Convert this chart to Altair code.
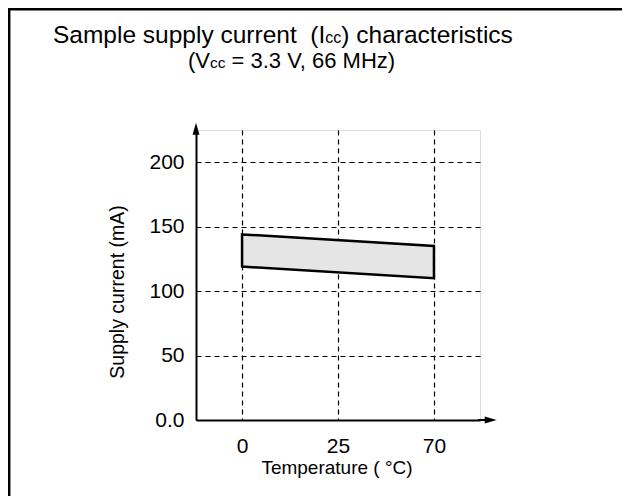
import altair as alt
import pandas as pd

# ---- data ----
temps = ["0", "25", "70"]
band_temp = ["0", "70"]
band_max = [144, 135]
band_min = [119, 110]
y_ticks = [0, 50, 100, 150, 200]

NB = "\u00a0"
title1 = ["Sample supply current" + NB + " (I", "cc", ") characteristics"]
title2 = ["(V", "cc", "= 3.3 V, 66 MHz)"]
x_title = "Temperature ( °C)"
y_title = "Supply current (mA)"

FONT = "Liberation Sans"
W, H = 284, 290

band = pd.DataFrame({"temp": band_temp, "max": band_max, "min": band_min})
one = pd.DataFrame({"d": [0]})

xenc = alt.X(
    "temp:O",
    scale=alt.Scale(type="point", domain=temps, padding=0.48),
    axis=alt.Axis(
        title=None, labelAngle=0, grid=True, gridDash=[5, 4], gridColor="black",
        gridWidth=1.2, gridOpacity=1, ticks=False, domainColor="black", domainWidth=2,
        labelFontSize=21, labelFont=FONT, labelColor="black", labelPadding=15,
    ),
)
yenc = alt.Y(
    "max:Q",
    scale=alt.Scale(domain=[0, 225], nice=False),
    axis=alt.Axis(
        title=None, values=y_ticks, grid=True, gridDash=[5, 4], gridColor="black",
        gridWidth=1.2, gridOpacity=1, ticks=False, domainColor="black", domainWidth=2,
        labelFontSize=21, labelFont=FONT, labelColor="black", labelPadding=12,
        labelExpr="datum.value == 0 ? '0.0' : datum.label",
    ),
)

area = alt.Chart(band).mark_area(
    fill="#e5e5e5", stroke="black", strokeWidth=2.5, opacity=1, fillOpacity=1
).encode(x=xenc, y=yenc, y2="min:Q")

base = alt.Chart(one)

# axis extensions and arrowheads
y_ext = base.mark_rule(color="black", strokeWidth=2).encode(
    x=alt.value(0), y=alt.value(-4), y2=alt.value(2))
x_ext = base.mark_rule(color="black", strokeWidth=2).encode(
    x=alt.value(W - 2), x2=alt.value(W + 8), y=alt.value(H))
y_arrow = base.mark_point(
    shape="M0,-1L0.58,1L-0.58,1Z", filled=True, color="black", size=144, opacity=1
).encode(x=alt.value(0), y=alt.value(-1.3))
x_arrow = base.mark_point(
    shape="M1,0L-1,0.58L-1,-0.58Z", filled=True, color="black", size=144, opacity=1
).encode(x=alt.value(W + 10.7), y=alt.value(H))

# frame (top and left edges visible)
frame_top = base.mark_rule(color="black", strokeWidth=2.5).encode(
    x=alt.value(-190), x2=alt.value(430), y=alt.value(-120.8))
frame_left = base.mark_rule(color="black", strokeWidth=2.5).encode(
    x=alt.value(-186.8), y=alt.value(-122), y2=alt.value(H + 80))

# title pieces
F1, F2 = 24.5, 16
l1_start = -143
l1_xA = l1_start + 11.115 * F1
l1_xC = l1_xA + 1.0 * F2
l1_y = -87
G1, G2 = 22, 15.5
l2_start = -8
l2_xA = l2_start + 1.0 * G1
l2_xC = l2_xA + 1.0 * G2 + 6
l2_y = -62

def txt(s, x, y, size, align="left", angle=0, baseline="alphabetic"):
    return base.mark_text(
        text=s, font=FONT, fontSize=size, color="black", align=align,
        baseline=baseline, angle=angle,
    ).encode(x=alt.value(x), y=alt.value(y))

texts = [
    txt(title1[0], l1_xA, l1_y, F1, "right"),
    txt(title1[1], l1_xA, l1_y, F2, "left"),
    txt(title1[2], l1_xC, l1_y, F1, "left"),
    txt(title2[0], l2_xA, l2_y, G1, "right"),
    txt(title2[1], l2_xA, l2_y, G2, "left"),
    txt(title2[2], l2_xC, l2_y, G1, "left"),
    txt(x_title, 141, 338, 19, "center", baseline="middle"),
    txt(y_title, -78, 162, 19.5, "center", angle=270, baseline="middle"),
]

chart = alt.layer(
    area, y_ext, x_ext, y_arrow, x_arrow, frame_top, frame_left, *texts
).properties(
    width=W, height=H,
    autosize=alt.AutoSizeParams(type="none"),
    padding={"left": 188, "top": 122, "right": 142, "bottom": 76},
).configure_view(stroke=None).configure(background="white")

chart.save("out.html", embed_options={"renderer": "svg", "actions": False})
